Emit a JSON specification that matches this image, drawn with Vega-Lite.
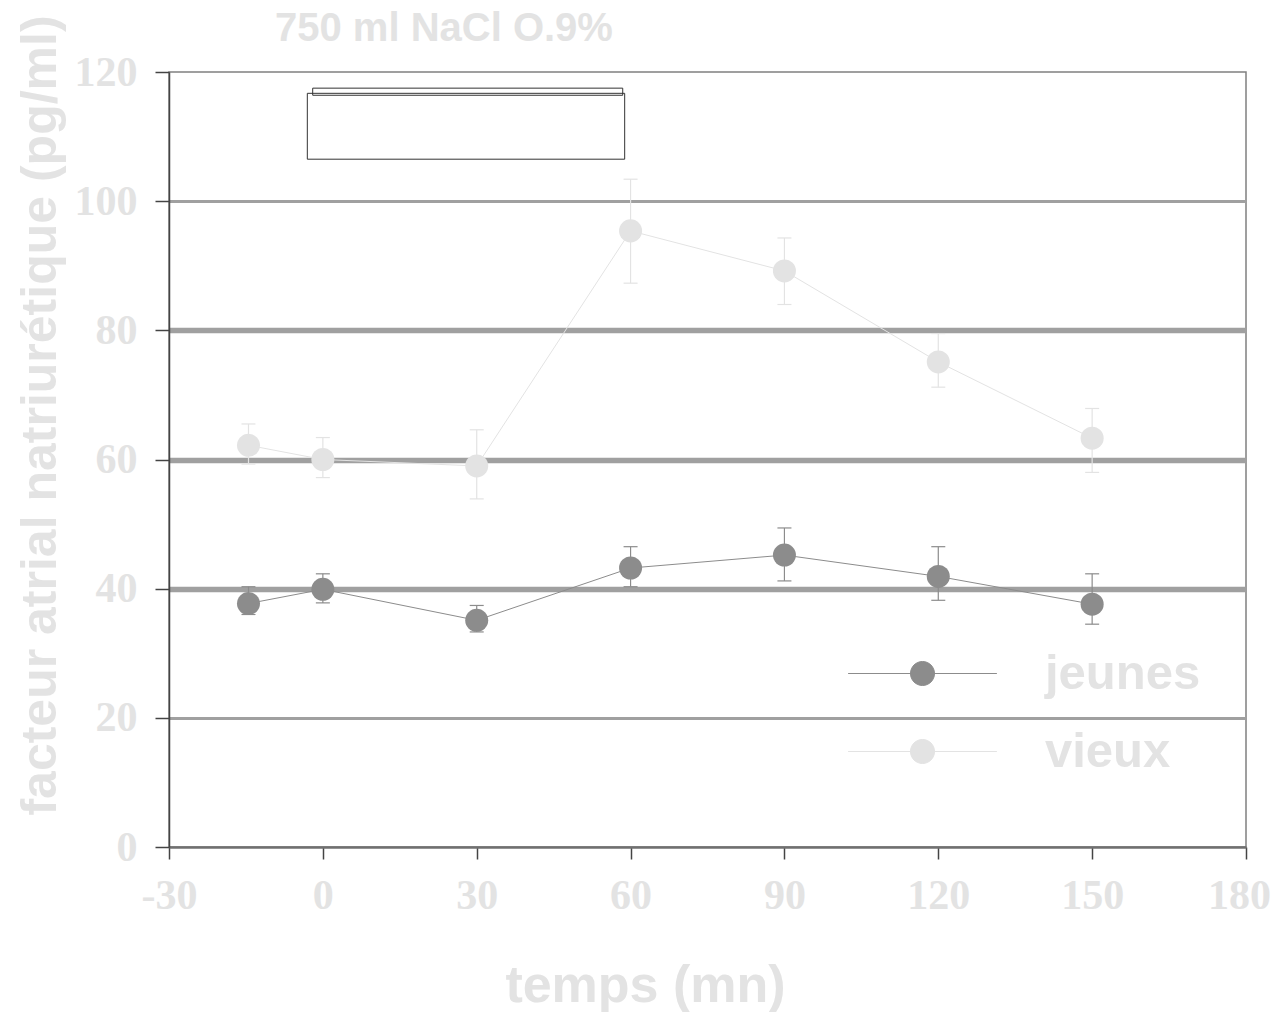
{
  "$schema": "https://vega.github.io/schema/vega-lite/v6.json",
  "width": 1077,
  "height": 775,
  "autosize": {"type": "none"},
  "padding": {"left": 169, "top": 72, "right": 28, "bottom": 165},
  "background": "white",
  "title": {"text": "750 ml NaCl O.9%", "anchor": "start", "frame": "group", "dx": 106, "offset": -66, "baseline": "alphabetic", "font": "Liberation Sans", "fontSize": 40, "fontWeight": "bold", "color": "#e3e3e3"},
  "config": {
    "view": {"stroke": "#808080", "strokeWidth": 1.5},
    "axis": {"labelFont": "Liberation Serif", "labelFontWeight": "bold", "labelFontSize": 42, "labelColor": "#e3e3e3", "titleFont": "Liberation Sans", "titleFontWeight": "bold", "titleColor": "#e3e3e3", "tickColor": "#444444", "tickWidth": 1.5, "domainColor": "#555555"}
  },
  "datasets": {
    "series": [
      {"t": -14.5, "serie": "jeunes", "v": 37.7, "lo": 36.0, "hi": 40.3},
      {"t": 0, "serie": "jeunes", "v": 39.9, "lo": 37.8, "hi": 42.3},
      {"t": 30, "serie": "jeunes", "v": 35.1, "lo": 33.3, "hi": 37.4},
      {"t": 60, "serie": "jeunes", "v": 43.2, "lo": 40.3, "hi": 46.5},
      {"t": 90, "serie": "jeunes", "v": 45.2, "lo": 41.2, "hi": 49.4},
      {"t": 120, "serie": "jeunes", "v": 41.9, "lo": 38.2, "hi": 46.5},
      {"t": 150, "serie": "jeunes", "v": 37.6, "lo": 34.5, "hi": 42.3},
      {"t": -14.5, "serie": "vieux", "v": 62.2, "lo": 59.3, "hi": 65.5},
      {"t": 0, "serie": "vieux", "v": 60.0, "lo": 57.2, "hi": 63.4},
      {"t": 30, "serie": "vieux", "v": 59.0, "lo": 53.9, "hi": 64.6},
      {"t": 60, "serie": "vieux", "v": 95.4, "lo": 87.3, "hi": 103.4},
      {"t": 90, "serie": "vieux", "v": 89.2, "lo": 84.0, "hi": 94.3},
      {"t": 120, "serie": "vieux", "v": 75.1, "lo": 71.2, "hi": 79.5},
      {"t": 150, "serie": "vieux", "v": 63.3, "lo": 58.0, "hi": 67.9}
    ]
  },
  "layer": [
    {
      "data": {"name": "series"},
      "mark": {"type": "line", "strokeWidth": 1},
      "encoding": {
        "x": {"field": "t", "type": "quantitative", "title": "temps (mn)", "scale": {"domain": [-30, 180], "nice": false, "zero": false},
          "axis": {"values": [-30, 0, 30, 60, 90, 120, 150, 180], "labelExpr": "datum.value + ''", "grid": false, "tickSize": 12, "labelPadding": 16, "labelFlush": false, "labelOverlap": false,
            "labelOffset": {"condition": {"test": "datum.value == 180", "value": -7}, "value": 0},
            "domainWidth": 2.5, "domainColor": "#707070", "titleFontSize": 52, "titleX": 476, "titleY": 154, "titleBaseline": "alphabetic", "titleAlign": "center", "titleAnchor": null}},
        "y": {"field": "v", "type": "quantitative", "title": "facteur atrial natriurétique (pg/ml)", "scale": {"domain": [0, 120], "nice": false},
          "axis": {"values": [0, 20, 40, 60, 80, 100, 120], "grid": true, "gridColor": "#a0a0a0",
            "gridWidth": {"condition": {"test": "datum.value == 20 || datum.value == 100", "value": 3}, "value": 5.5},
            "gridOpacity": {"condition": {"test": "datum.value == 0 || datum.value == 120", "value": 0}, "value": 1},
            "tickSize": 14, "labelPadding": 18, "domainWidth": 1.5, "domainColor": "#444444", "titleFontSize": 50, "titleAngle": -90, "titleX": -114, "titleY": 343, "titleBaseline": "alphabetic", "titleAlign": "center", "titleAnchor": null}},
        "color": {"field": "serie", "type": "nominal", "scale": {"domain": ["jeunes", "vieux"], "range": ["#8c8c8c", "#e3e3e3"]}},
        "detail": {"field": "serie"}
      }
    },
    {
      "data": {"values": [{"x1": -1.98, "x2": 58.47, "y1": 116.4, "y2": 117.5}]},
      "mark": {"type": "rect", "fill": null, "fillOpacity": 0, "stroke": "#333333", "strokeWidth": 1},
      "encoding": {
        "x": {"field": "x1", "type": "quantitative", "title": "temps (mn)"},
        "x2": {"field": "x2"},
        "y": {"field": "y1", "type": "quantitative", "title": "facteur atrial natriurétique (pg/ml)"},
        "y2": {"field": "y2"}
      }
    },
    {
      "data": {"values": [{"x1": -3.03, "x2": 58.85, "y1": 106.5, "y2": 116.7}]},
      "mark": {"type": "rect", "fill": null, "fillOpacity": 0, "stroke": "#333333", "strokeWidth": 1},
      "encoding": {
        "x": {"field": "x1", "type": "quantitative", "title": "temps (mn)"},
        "x2": {"field": "x2"},
        "y": {"field": "y1", "type": "quantitative", "title": "facteur atrial natriurétique (pg/ml)"},
        "y2": {"field": "y2"}
      }
    },
    {
      "data": {"name": "series"},
      "mark": {"type": "rule", "strokeWidth": 1.2},
      "encoding": {
        "x": {"field": "t", "type": "quantitative", "title": "temps (mn)"},
        "y": {"field": "lo", "type": "quantitative", "title": "facteur atrial natriurétique (pg/ml)"},
        "y2": {"field": "hi"},
        "color": {"field": "serie", "type": "nominal"}
      }
    },
    {
      "data": {"name": "series"},
      "mark": {"type": "tick", "orient": "horizontal", "size": 14, "thickness": 1.2, "opacity": 1},
      "encoding": {
        "x": {"field": "t", "type": "quantitative", "title": "temps (mn)"},
        "y": {"field": "lo", "type": "quantitative", "title": "facteur atrial natriurétique (pg/ml)"},
        "color": {"field": "serie", "type": "nominal"}
      }
    },
    {
      "data": {"name": "series"},
      "mark": {"type": "tick", "orient": "horizontal", "size": 14, "thickness": 1.2, "opacity": 1},
      "encoding": {
        "x": {"field": "t", "type": "quantitative", "title": "temps (mn)"},
        "y": {"field": "hi", "type": "quantitative", "title": "facteur atrial natriurétique (pg/ml)"},
        "color": {"field": "serie", "type": "nominal"}
      }
    },
    {
      "data": {"name": "series"},
      "mark": {"type": "point", "shape": "circle", "filled": true, "size": 530, "opacity": 1},
      "encoding": {
        "x": {"field": "t", "type": "quantitative", "title": "temps (mn)"},
        "y": {"field": "v", "type": "quantitative", "title": "facteur atrial natriurétique (pg/ml)"},
        "color": {"field": "serie", "type": "nominal",
          "legend": {"orient": "none", "legendX": 729, "legendY": 577, "title": null,
            "symbolType": "M-6.2,0H6.2M1,0A1,1,0,1,1,-1,0A1,1,0,1,1,1,0Z", "symbolSize": 576, "symbolStrokeWidth": 1, "symbolOpacity": 1,
            "labelFont": "Liberation Sans", "labelFontWeight": "bold", "labelFontSize": 49, "labelColor": "#e3e3e3", "labelOffset": 98, "rowPadding": 28,
            "encode": {"symbols": {"update": {"fill": {"scale": "color", "field": "value"}, "stroke": {"scale": "color", "field": "value"}, "opacity": {"value": 1}}}}}}
      }
    }
  ]
}
